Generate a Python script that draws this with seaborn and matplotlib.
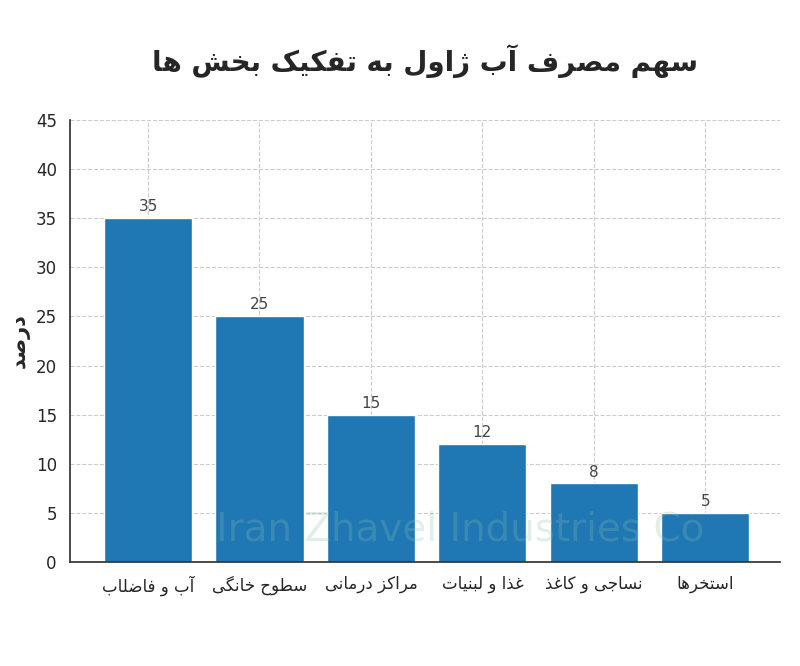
import matplotlib
matplotlib.use("Agg")
import matplotlib.pyplot as plt
import seaborn as sns
import pandas as pd

# forms: isolated, final, initial, medial
FORMS = {
    'ا': (0xFE8D, 0xFE8E), 'آ': (0xFE81, 0xFE82), 'د': (0xFEA9, 0xFEAA),
    'ر': (0xFEAD, 0xFEAE), 'ز': (0xFEAF, 0xFEB0), 'ژ': (0xFB8A, 0xFB8B),
    'و': (0xFEED, 0xFEEE), 'ذ': (0xFEAB, 0xFEAC),
    'ب': (0xFE8F, 0xFE90, 0xFE91, 0xFE92), 'ت': (0xFE95, 0xFE96, 0xFE97, 0xFE98),
    'ج': (0xFE9D, 0xFE9E, 0xFE9F, 0xFEA0), 'ح': (0xFEA1, 0xFEA2, 0xFEA3, 0xFEA4),
    'خ': (0xFEA5, 0xFEA6, 0xFEA7, 0xFEA8), 'س': (0xFEB1, 0xFEB2, 0xFEB3, 0xFEB4),
    'ش': (0xFEB5, 0xFEB6, 0xFEB7, 0xFEB8), 'ص': (0xFEB9, 0xFEBA, 0xFEBB, 0xFEBC),
    'ض': (0xFEBD, 0xFEBE, 0xFEBF, 0xFEC0), 'ط': (0xFEC1, 0xFEC2, 0xFEC3, 0xFEC4),
    'غ': (0xFECD, 0xFECE, 0xFECF, 0xFED0), 'ف': (0xFED1, 0xFED2, 0xFED3, 0xFED4),
    'ک': (0xFB8E, 0xFB8F, 0xFB90, 0xFB91), 'گ': (0xFB92, 0xFB93, 0xFB94, 0xFB95),
    'ل': (0xFEDD, 0xFEDE, 0xFEDF, 0xFEE0), 'م': (0xFEE1, 0xFEE2, 0xFEE3, 0xFEE4),
    'ن': (0xFEE5, 0xFEE6, 0xFEE7, 0xFEE8), 'ه': (0xFEE9, 0xFEEA, 0xFEEB, 0xFEEC),
    'ی': (0xFBFC, 0xFBFD, 0xFBFE, 0xFBFF),
}


def fa(text):
    """Minimal Persian shaping + RTL reversal for matplotlib"""
    out = []
    for i, ch in enumerate(text):
        if ch not in FORMS:
            out.append(ch)
            continue
        f = FORMS[ch]
        prev = text[i - 1] if i > 0 else ''
        nxt = text[i + 1] if i + 1 < len(text) else ''
        join_prev = prev in FORMS and len(FORMS[prev]) == 4
        join_next = nxt in FORMS and len(f) == 4
        if join_prev and join_next:
            out.append(chr(f[3]))
        elif join_prev:
            out.append(chr(f[1]))
        elif join_next:
            out.append(chr(f[2]))
        else:
            out.append(chr(f[0]))
    return ''.join(out)[::-1]


categories = ['آب و فاضلاب', 'سطوح خانگی', 'مراکز درمانی', 'غذا و لبنیات', 'نساجی و کاغذ', 'استخرها']
values = [35, 25, 15, 12, 8, 5]
title = 'سهم مصرف آب ژاول به تفکیک بخش ها'
ylabel = 'درصد'

sns.set_theme(style='whitegrid')
plt.rcParams['font.family'] = ['DejaVu Sans']

df = pd.DataFrame({'cat': [fa(c) for c in categories], 'val': values})

fig, ax = plt.subplots(figsize=(8, 6.66), dpi=100)

# faint watermark (kept clear of the value labels)
fig.text(0.575, 0.205, 'Iran Zhavel Industries Co', fontsize=28, color='#88bfae',
         alpha=0.25, ha='center', va='center', zorder=0)

sns.barplot(data=df, x='cat', y='val', color='#1f77b4', saturation=1, width=0.79, ax=ax)

for i, v in enumerate(values):
    ax.text(i, v + 0.4, str(v), ha='center', va='bottom', fontsize=11, color='#444444')

ax.set_xlim(-0.7, 5.67)
ax.set_ylim(0, 45)
ax.set_yticks(range(0, 46, 5))
ax.set_xlabel('')
ax.set_ylabel(fa(ylabel), fontsize=15, fontweight='bold')
ax.set_title(fa(title), fontsize=20, fontweight='bold', pad=35)
ax.tick_params(axis='both', labelsize=12)
ax.grid(True, linestyle='--', color='#cccccc', linewidth=0.8)
ax.set_axisbelow(True)
ax.patch.set_alpha(0)
for s in ['top', 'right']:
    ax.spines[s].set_visible(False)
for s in ['left', 'bottom']:
    ax.spines[s].set_color('#333333')

plt.subplots_adjust(left=0.0875, right=0.975, top=0.82, bottom=0.156)
plt.savefig('out.png', dpi=100)
plt.close()
